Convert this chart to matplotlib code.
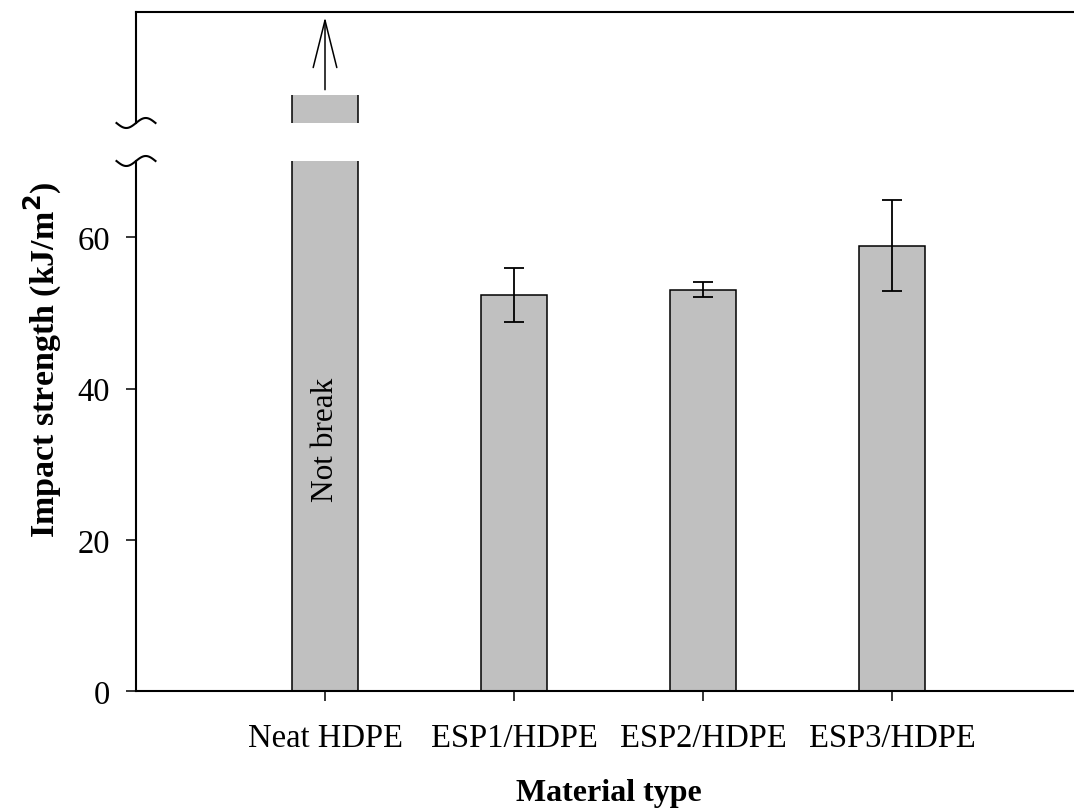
import numpy as np
import matplotlib
matplotlib.use("Agg")
import matplotlib.pyplot as plt
from matplotlib.lines import Line2D

plt.rcParams['font.family'] = ['Liberation Serif', 'DejaVu Serif']

# impact strength data (kJ/m^2), mean +/- sd
materials = ['Neat HDPE', 'ESP1/HDPE', 'ESP2/HDPE', 'ESP3/HDPE']
strength = [np.nan, 52.4, 53.1, 58.9]
strength_err = [0, 3.6, 1.05, 6.0]
neat_bar_top = 78.8       # neat HDPE did not break: bar runs past the axis break
yticks = [0, 20, 40, 60]

W, H = 1074, 812
fig = plt.figure(figsize=(W / 100, H / 100), dpi=100)

# pixel layout of the two panels of the broken axis
x_left, x_right = 136, 1081
lo_bottom, lo_top = 692, 162
hi_bottom, hi_top = 124, 13

ax = fig.add_axes([x_left / W, 1 - lo_bottom / H, (x_right - x_left) / W, (lo_bottom - lo_top) / H])
ax_hi = fig.add_axes([x_left / W, 1 - hi_bottom / H, (x_right - x_left) / W, (hi_bottom - hi_top) / H])

x = np.arange(len(materials))
bw = 0.35
grey = '#c0c0c0'

# lower panel
heights = [neat_bar_top] + strength[1:]
ax.bar(x, heights, width=bw, color=grey, edgecolor='black', linewidth=1.1, zorder=2)
ax.errorbar(x[1:], strength[1:], yerr=strength_err[1:], fmt='none', ecolor='black',
            elinewidth=1.3, capsize=7.2, capthick=1.3, zorder=3)
ax.set_xlim(-1, 4)
ax.set_ylim(0, 70.1)
ax.set_yticks(yticks)
ax.set_xticks(x)
ax.set_xticklabels(materials)
ax.tick_params(axis='both', direction='out', length=7.5, width=1.1, labelsize=23.5)
ax.tick_params(axis='y', pad=11)
ax.tick_params(axis='x', pad=15)
for s in ['top', 'right']:
    ax.spines[s].set_visible(False)
for s in ['left', 'bottom']:
    ax.spines[s].set_linewidth(1.5)
ax.text(0, 33.3, 'Not break', rotation=90, ha='center', va='center', fontsize=22.5, zorder=4)
ax.set_xlabel('Material type', fontsize=23, fontweight='bold', labelpad=18)

# y label is centred on the whole broken axis
fig.text(43 / W, 1 - 360 / H, 'Impact strength (kJ/m$\\mathbf{^2}$)', rotation=90,
         ha='center', va='center', fontsize=24.5, fontweight='bold')

# upper panel
ax_hi.bar(x[:1], [neat_bar_top], width=bw, color=grey, edgecolor='none', zorder=2)
ax_hi.vlines([x[0] - bw / 2, x[0] + bw / 2], 0, neat_bar_top, color='black', linewidth=1.1, zorder=3)
ax_hi.annotate('', xy=(x[0], 89.3), xytext=(x[0], 79.5),
               arrowprops=dict(arrowstyle='->,head_length=3.4,head_width=0.85',
                               mutation_scale=10, color='black', linewidth=1.1,
                               shrinkA=0, shrinkB=0))
ax_hi.set_xlim(-1, 4)
ax_hi.set_ylim(75, 90)
ax_hi.set_xticks([])
ax_hi.set_yticks([])
for s in ['bottom', 'right']:
    ax_hi.spines[s].set_visible(False)
for s in ['left', 'top']:
    ax_hi.spines[s].set_linewidth(1.5)

# break marks on the y axis
t = np.linspace(0, 1, 60)
for yb in (hi_bottom, lo_top):
    xs = x_left - 19.5 + 39 * t
    ys = yb + 5 * np.sin(2 * np.pi * t)
    fig.add_artist(Line2D(xs / W, 1 - ys / H, transform=fig.transFigure,
                          color='black', linewidth=1.5))

fig.savefig('out.png', dpi=100)
